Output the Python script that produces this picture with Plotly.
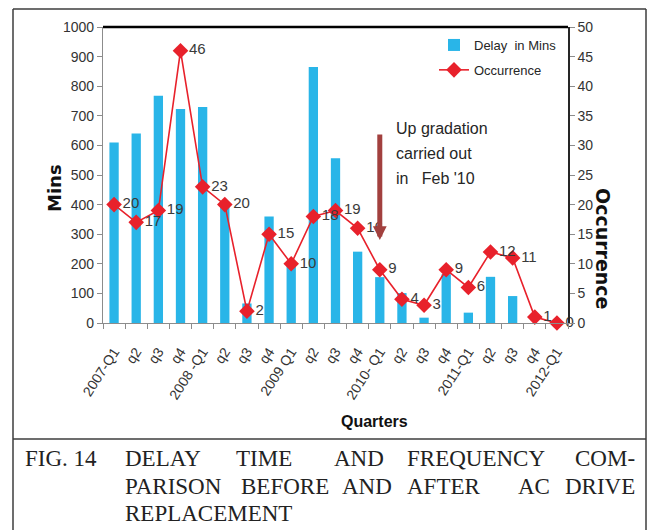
import plotly.graph_objects as go

# ---------------- data ----------------
quarters = ["2007-Q1", "q2", "q3", "q4", "2008 -Q1", "q2", "q3", "q4",
            "2009 Q1", "q2", "q3", "q4", "2010- Q1", "q2", "q3", "q4",
            "2011-Q1", "q2", "q3", "q4", "2012-Q1"]
delay_mins = [610, 640, 768, 723, 730, 405, 66, 360, 205, 865, 557, 241,
              155, 101, 18, 165, 35, 156, 91, 0, 0]
occurrence = [20, 17, 19, 46, 23, 20, 2, 15, 10, 18, 19, 16, 9, 4, 3, 9,
              6, 12, 11, 1, 0]
note_lines = ["Up gradation", "carried out", "in\u00a0\u00a0\u00a0Feb '10"]
x_idx = list(range(len(quarters)))

# ---------------- geometry helpers ----------------
W, H = 648, 530
L, R, T, B = 103, 568, 27, 323


def px(X):
    return (X - L) / (R - L)


def py(Y):
    return (B - Y) / (B - T)


SANS = "Liberation Sans, Arial, sans-serif"
SERIF = "Liberation Serif, Times New Roman, serif"
BLUE = "#29B5E8"
RED = "#E8212B"

fig = go.Figure()

fig.add_trace(go.Bar(
    x=x_idx, y=delay_mins, name="Delay\u00a0\u00a0in Mins", legendgroup="a",
    marker=dict(color=BLUE, line=dict(width=0)), width=0.42,
    yaxis="y",
))

fig.add_trace(go.Scatter(
    x=x_idx, y=occurrence, name="Occurrence", yaxis="y2", legendgroup="b",
    mode="lines+markers+text",
    line=dict(color=RED, width=1.6),
    marker=dict(symbol="diamond", size=12, color=RED),
    text=[str(v) for v in occurrence], textposition="middle right",
    textfont=dict(family=SANS, size=15, color="#3a3a3a"),
    cliponaxis=False,
))

annotations = []
# arrow for upgradation
annotations.append(dict(
    x=12, y=280, xref="x", yref="y", showarrow=True, ax=0, ay=-107,
    arrowhead=2, arrowsize=0.55, arrowwidth=5, arrowcolor="#A2403E", text="",
))
for i, ln in enumerate(note_lines):
    annotations.append(dict(
        x=px(394), y=py(128 + 25 * i), xref="paper", yref="paper", xanchor="left",
        yanchor="middle", align="left", showarrow=False, text=ln,
        font=dict(family=SANS, size=16, color="#262626"),
    ))
# axis titles
annotations.append(dict(
    x=px(55), y=py(188), xref="paper", yref="paper", showarrow=False,
    xanchor="center", yanchor="middle",
    text="<b>Mins</b>", textangle=-90,
    font=dict(family="DejaVu Sans, sans-serif", size=18, color="#111"),
))
annotations.append(dict(
    x=px(603), y=py(249), xref="paper", yref="paper", showarrow=False,
    xanchor="center", yanchor="middle",
    text="<b>Occurrence</b>", textangle=90,
    font=dict(family="DejaVu Sans, sans-serif", size=19, color="#111"),
))
annotations.append(dict(
    x=px(374), y=py(421), xref="paper", yref="paper", showarrow=False,
    xanchor="center", yanchor="middle",
    text="<b>Quarters</b>",
    font=dict(family=SANS, size=16, color="#111"),
))

# caption (justified by placing words)
cap_lines = [
    (457.5, [("FIG. 14", 23, "left"), ("DELAY", 123, "left"), ("TIME", 234, "left"),
             ("AND", 332, "left"), ("FREQUENCY", 405, "left"), ("COM-", 637, "right")]),
    (485.5, [("PARISON", 123, "left"), ("BEFORE", 239, "left"), ("AND", 340, "left"),
             ("AFTER", 405, "left"), ("AC", 516, "left"), ("DRIVE", 637, "right")]),
    (512.5, [("REPLACEMENT", 123, "left")]),
]
for yy, words in cap_lines:
    for w, xx, anc in words:
        annotations.append(dict(
            x=px(xx), y=py(yy + 1), xref="paper", yref="paper", showarrow=False,
            xanchor=anc, yanchor="middle", text=w,
            font=dict(family=SERIF, size=23, color="#222"),
        ))

BORDER = "#3c3c3c"
shapes = [
    dict(type="line", xref="paper", yref="paper", x0=px(13), x1=px(646), y0=py(9), y1=py(9),
         line=dict(color=BORDER, width=1.5)),
    dict(type="line", xref="paper", yref="paper", x0=px(13), x1=px(13), y0=py(9), y1=py(535),
         line=dict(color=BORDER, width=1.5)),
    dict(type="line", xref="paper", yref="paper", x0=px(646), x1=px(646), y0=py(9), y1=py(535),
         line=dict(color=BORDER, width=1.5)),
    dict(type="line", xref="paper", yref="paper", x0=px(13), x1=px(646), y0=py(439), y1=py(439),
         line=dict(color=BORDER, width=1.5)),
    dict(type="line", xref="paper", yref="paper", x0=0, x1=1, y0=1, y1=1,
         line=dict(color="#000", width=2.5)),
]

fig.update_layout(
    width=W, height=H,
    margin=dict(l=L, r=W - R, t=T, b=H - B, pad=0),
    paper_bgcolor="white", plot_bgcolor="white",
    showlegend=True,
    legend=dict(x=px(434), y=py(30), xanchor="left", yanchor="top",
                bgcolor="rgba(0,0,0,0)", font=dict(family=SANS, size=13, color="#262626"),
                itemwidth=30, tracegroupgap=5),
    xaxis=dict(
        range=[-0.5, 20.5], tickmode="array", tickvals=x_idx, ticktext=quarters,
        tickangle=-57, ticks="", showline=True, linecolor="#8c8c8c", linewidth=1.2,
        showgrid=False, zeroline=False, ticklabelstandoff=14,
        tickfont=dict(family=SANS, size=14, color="#333"),
        minor=dict(tickmode="array", tickvals=[i - 0.5 for i in range(22)],
                   ticks="outside", ticklen=5, tickcolor="#8c8c8c", tickwidth=1, showgrid=False),
    ),
    yaxis=dict(
        range=[0, 1000], dtick=100, tick0=0, ticks="outside", ticklen=5,
        tickcolor="#8c8c8c", showline=True, linecolor="#8c8c8c", linewidth=1.2,
        showgrid=False, zeroline=False,
        tickfont=dict(family=SANS, size=14, color="#333"),
    ),
    yaxis2=dict(
        range=[0, 50], dtick=5, tick0=0, overlaying="y", side="right",
        ticks="outside", ticklen=5, tickcolor="#8c8c8c", showline=True,
        linecolor="#262626", linewidth=1.5, showgrid=False, zeroline=False,
        tickfont=dict(family=SANS, size=14, color="#333"),
    ),
    annotations=annotations,
    shapes=shapes,
)

fig.write_html("out.html")
